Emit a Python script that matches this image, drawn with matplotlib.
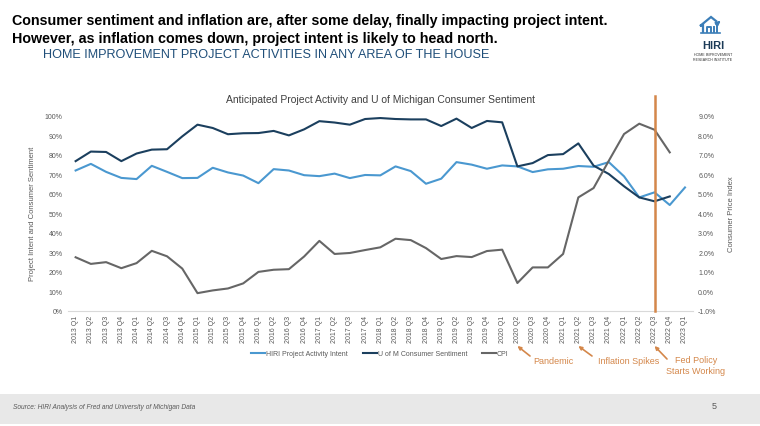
import matplotlib.pyplot as plt
from matplotlib.patches import Rectangle

plt.rcParams['font.family'] = ['Liberation Sans', 'DejaVu Sans']

quarters = [f"{y} Q{q}" for y in range(2013, 2024) for q in range(1, 5)][:41]

# HIRI project activity intent (%), 2013 Q1 - 2023 Q1
hiri = [71.9, 75.3, 71.2, 68.1, 67.5, 74.3, 71.2, 68.0, 68.1, 73.3, 70.9, 69.3,
        65.4, 72.6, 71.9, 69.5, 69.0, 70.3, 68.0, 69.6, 69.4, 74.0, 71.6, 65.1,
        67.7, 76.2, 74.9, 72.8, 74.5, 74.0, 71.1, 72.5, 72.8, 74.2, 73.8, 76.2,
        68.9, 58.1, 60.7, 54.2, 63.2]
# U of Michigan consumer sentiment (index, shown as %), 2013 Q1 - 2022 Q4
umich = [76.7, 81.6, 81.4, 76.7, 80.6, 82.6, 82.8, 89.4, 95.4, 93.7, 90.5, 91.0,
         91.1, 92.2, 89.9, 93.0, 97.2, 96.5, 95.4, 98.3, 98.8, 98.3, 98.1, 98.1,
         94.7, 98.5, 93.7, 97.3, 96.6, 74.0, 75.7, 79.8, 80.3, 85.8, 74.4, 70.1,
         63.8, 58.1, 56.1, 58.6]
# CPI year over year (%), 2013 Q1 - 2022 Q4
cpi = [1.74, 1.40, 1.49, 1.18, 1.44, 2.07, 1.79, 1.16, -0.10, 0.04, 0.14, 0.40,
       0.99, 1.10, 1.13, 1.78, 2.58, 1.91, 1.96, 2.11, 2.25, 2.69, 2.62, 2.21,
       1.65, 1.80, 1.75, 2.06, 2.13, 0.42, 1.22, 1.22, 1.91, 4.81, 5.29, 6.69,
       8.06, 8.59, 8.28, 7.12]

events = ["Pandemic", "Inflation Spikes", "Fed Policy\nStarts Working"]
event_quarters = ["2020 Q2", "2021 Q2", "2022 Q3"]

W, H = 760, 427
fig = plt.figure(figsize=(W / 100, H / 100), dpi=100)

def fy(y):
    return 1 - y / H

# header
fig.text(12 / W, fy(21), "Consumer sentiment and inflation are, after some delay, finally impacting project intent.",
         fontsize=10.3, fontweight='bold', va='center', ha='left', color='black')
fig.text(12 / W, fy(39), "However, as inflation comes down, project intent is likely to head north.",
         fontsize=10.3, fontweight='bold', va='center', ha='left', color='black')
fig.text(43 / W, fy(55), "HOME IMPROVEMENT PROJECT ACTIVITIES IN ANY AREA OF THE HOUSE",
         fontsize=9.1, va='center', ha='left', color='#1F4E79')

# logo
logo = fig.add_axes([695 / W, fy(66), 40 / W, 50 / H])
logo.set_xlim(695, 735)
logo.set_ylim(66, 16)
logo.axis('off')
lc = '#3C7EB8'
logo.plot([703, 703, 700, 711, 716], [33, 26, 27, 18, 22], color=lc, lw=1.6, solid_joinstyle='miter')
logo.plot([707, 707, 711, 711], [33, 28, 28, 33], color=lc, lw=1.4)
logo.plot([714, 714], [33, 28], color=lc, lw=1.4)
logo.plot([717, 717], [33, 25], color=lc, lw=1.4)
logo.annotate('', xy=(723, 20), xytext=(714, 27),
              arrowprops=dict(arrowstyle='-|>', color=lc, lw=1.4, mutation_scale=6))
logo.plot([701, 720], [33.5, 33.5], color=lc, lw=1.2)
fig.text(713 / W, fy(46), "HIRI", fontsize=8, fontweight='bold', color='#1B3A57', ha='center', va='center')
fig.text(713 / W, fy(55), "HOME IMPROVEMENT", fontsize=2.6, color='#333333', ha='center', va='center')
fig.text(713 / W, fy(60), "RESEARCH INSTITUTE", fontsize=2.6, color='#333333', ha='center', va='center')

# main chart
ax = fig.add_axes([68 / W, fy(311.7), (692.6 - 68) / W, 195 / H])
ax2 = ax.twinx()

c_hiri = '#4A98D0'
c_umich = '#1B3F5E'
c_cpi = '#666666'
c_orange = '#D4874A'
txt = '#595959'

x = list(range(len(quarters)))
l1, = ax.plot(x[:len(hiri)], hiri, color=c_hiri, lw=1.5, label='HIRI Project Activity Intent')
l2, = ax.plot(x[:len(umich)], umich, color=c_umich, lw=1.5, label='U of M Consumer Sentiment')
l3, = ax2.plot(x[:len(cpi)], cpi, color=c_cpi, lw=1.5, label='CPI')

ax.set_xlim(-0.5, len(quarters) - 0.5)
ax.set_ylim(0, 100)
ax2.set_ylim(-1, 9)
ax.set_yticks(range(0, 101, 10))
ax.set_yticklabels([f"{v}%" for v in range(0, 101, 10)])
ax2.set_yticks(range(-1, 10))
ax2.set_yticklabels([f"{v:.1f}%" for v in range(-1, 10)])
ax.set_xticks(x)
ax.set_xticklabels(quarters, rotation=90)

for a in (ax, ax2):
    for s in a.spines.values():
        s.set_visible(False)
    a.tick_params(length=0, labelsize=5, colors=txt, pad=4)
ax.spines['bottom'].set_visible(True)
ax.spines['bottom'].set_color('#D9D9D9')
ax.spines['bottom'].set_linewidth(0.8)
ax.tick_params(axis='x', pad=3)

ax.set_ylabel("Project Intent and Consumer Sentiment", fontsize=5.5, color=txt, labelpad=6)
ax2.set_ylabel("Consumer Price Index", fontsize=5.5, color=txt, labelpad=8)

fig.text(380 / W, fy(100), "Anticipated Project Activity and U of Michigan Consumer Sentiment",
         fontsize=7.5, color='#404040', ha='center', va='center')

# event marker line
fed_idx = quarters.index(event_quarters[2])
ax2.axvline(fed_idx, ymin=0, ymax=1.1, color=c_orange, lw=1.8, clip_on=False, zorder=5)

# legend
fig.legend(handles=[l1, l2, l3], loc='center', bbox_to_anchor=(380 / W, fy(355)), ncol=3,
           frameon=False, fontsize=5, handlelength=2.0, handletextpad=0.1, columnspacing=2.2,
           labelcolor=txt)

# event annotations
text_pos = [(533, 362, 'left'), (598, 362, 'left'), (696, 366, 'center')]
arrow_tail = [(530, 357), (592, 357), (667, 360)]
for ev, q, (tx, ty, ha), (ax0, ay0) in zip(events, event_quarters, text_pos, arrow_tail):
    i = quarters.index(q)
    ax.annotate('', xy=(i, fy(347)), xycoords=('data', 'figure fraction'),
                xytext=(ax0 / W, fy(ay0)), textcoords='figure fraction',
                arrowprops=dict(arrowstyle='-|>', color=c_orange, lw=1.2, mutation_scale=5,
                                shrinkA=0, shrinkB=0))
    fig.text(tx / W, fy(ty), ev, fontsize=6.5, color=c_orange, ha=ha, va='center',
             linespacing=1.3)

# footer
fig.patches.append(Rectangle((0, fy(425)), 1, 30 / H, transform=fig.transFigure,
                             facecolor='#E8E8E8', edgecolor='none', zorder=0))
fig.text(13 / W, fy(408), "Source: HIRI Analysis of Fred and University of Michigan Data",
         fontsize=4.8, style='italic', color='#595959', ha='left', va='center')
fig.text(714 / W, fy(407), "5", fontsize=6.5, color='#595959', ha='center', va='center')

fig.savefig("out.png", dpi=100)
